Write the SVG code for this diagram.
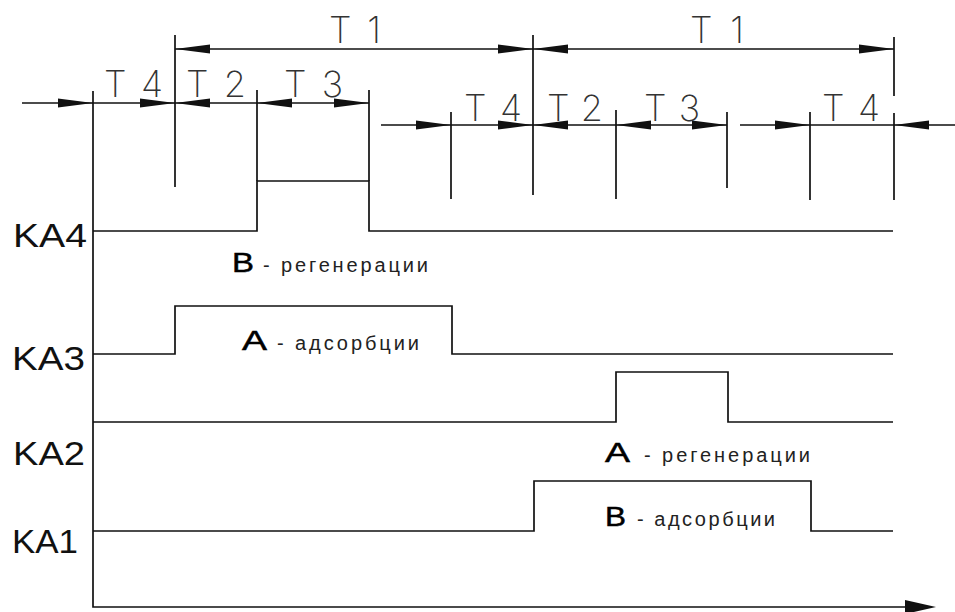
<svg xmlns="http://www.w3.org/2000/svg" width="955" height="612" viewBox="0 0 955 612">
<style>
.ln{stroke:#111;stroke-width:1.7;fill:none}
.ah{fill:#111}
.dim{font-family:Inter,"Noto Sans","Liberation Sans",sans-serif;font-weight:200;font-size:36px;fill:#333}
.ka{font-family:"Liberation Sans",Arial,sans-serif;font-size:33px;fill:#111}
.big{font-family:"Liberation Sans",Arial,sans-serif;font-size:27px;fill:#000;stroke:#000;stroke-width:0.5}
.sm{font-family:"Liberation Sans",Arial,sans-serif;font-size:20px;fill:#222}
</style>
<defs>
<polygon id="ar" points="0,0 -35,-4.5 -35,4.5"/>
<polygon id="al" points="0,0 35,-4.5 35,4.5"/>
</defs>
<rect width="955" height="612" fill="#fff"/>

<g id="axes">
<path class="ln" d="M93,91 V607 H908"/>
<polygon class="ah" points="936,607 905,600 905,614"/>
</g>

<g id="connectors">
<path class="ln" d="M175,49 H894"/>
<path class="ln" d="M175,35 V187 M533,35 V195 M894,37 V96 M894,113 V200"/>
<use href="#al" class="ah" x="175" y="49"/>
<use href="#ar" class="ah" x="533" y="49"/>
<use href="#al" class="ah" x="533" y="49"/>
<use href="#ar" class="ah" x="894" y="49"/>
<path class="ln" d="M22,103 H369"/>
<path class="ln" d="M257,90 V181 M369,90 V181"/>
<use href="#ar" class="ah" x="93" y="103"/>
<use href="#ar" class="ah" x="175" y="103"/>
<use href="#al" class="ah" x="175" y="103"/>
<use href="#al" class="ah" x="257" y="103"/>
<use href="#ar" class="ah" x="369" y="103"/>
<path class="ln" d="M381,125 H727 M740,125 H955"/>
<path class="ln" d="M451,112 V199 M616,110 V199 M727,112 V188 M810,112 V200"/>
<use href="#ar" class="ah" x="451" y="125"/>
<use href="#ar" class="ah" x="533" y="125"/>
<use href="#al" class="ah" x="533" y="125"/>
<use href="#al" class="ah" x="616" y="125"/>
<use href="#ar" class="ah" x="727" y="125"/>
<use href="#ar" class="ah" x="810" y="125"/>
<use href="#al" class="ah" x="894" y="125"/>
</g>

<g id="dim-labels">
<text class="dim" x="329" y="43" textLength="52" lengthAdjust="spacing">T1</text>
<text class="dim" x="690" y="43" textLength="54" lengthAdjust="spacing">T1</text>
<text class="dim" x="104" y="97" textLength="59" lengthAdjust="spacing">T4</text>
<text class="dim" x="186" y="97" textLength="60" lengthAdjust="spacing">T2</text>
<text class="dim" x="284" y="97" textLength="59" lengthAdjust="spacing">T3</text>
<text class="dim" x="464" y="121" textLength="58" lengthAdjust="spacing">T4</text>
<text class="dim" x="547" y="121" textLength="56" lengthAdjust="spacing">T2</text>
<text class="dim" x="644" y="121" textLength="56" lengthAdjust="spacing">T3</text>
<text class="dim" x="822" y="121" textLength="58" lengthAdjust="spacing">T4</text>
</g>

<g id="KA4">
<path class="ln" d="M93,231 H257 V181 H369 V231 H893"/>
<text class="ka" x="13" y="247" textLength="74" lengthAdjust="spacingAndGlyphs">KA4</text>
<text class="big" x="232" y="272" textLength="22" lengthAdjust="spacingAndGlyphs">B</text>
<text class="sm" x="263" y="272" textLength="165" lengthAdjust="spacing">- регенерации</text>
</g>

<g id="KA3">
<path class="ln" d="M93,354 H175 V306 H452 V354 H893"/>
<text class="ka" x="12" y="370" textLength="73" lengthAdjust="spacingAndGlyphs">KA3</text>
<text class="big" x="242" y="350" textLength="25" lengthAdjust="spacingAndGlyphs">A</text>
<text class="sm" x="277" y="350" textLength="142" lengthAdjust="spacing">- адсорбции</text>
</g>

<g id="KA2">
<path class="ln" d="M93,422 H616 V372 H728 V422 H893"/>
<text class="ka" x="13" y="465" textLength="72" lengthAdjust="spacingAndGlyphs">KA2</text>
<text class="big" x="605" y="462" textLength="25" lengthAdjust="spacingAndGlyphs">A</text>
<text class="sm" x="644" y="462" textLength="166" lengthAdjust="spacing">- регенерации</text>
</g>

<g id="KA1">
<path class="ln" d="M93,531 H534 V481 H811 V531 H893"/>
<text class="ka" x="12" y="553" textLength="66" lengthAdjust="spacingAndGlyphs">KA1</text>
<text class="big" x="605" y="526" textLength="21" lengthAdjust="spacingAndGlyphs">B</text>
<text class="sm" x="637" y="526" textLength="138" lengthAdjust="spacing">- адсорбции</text>
</g>
</svg>
